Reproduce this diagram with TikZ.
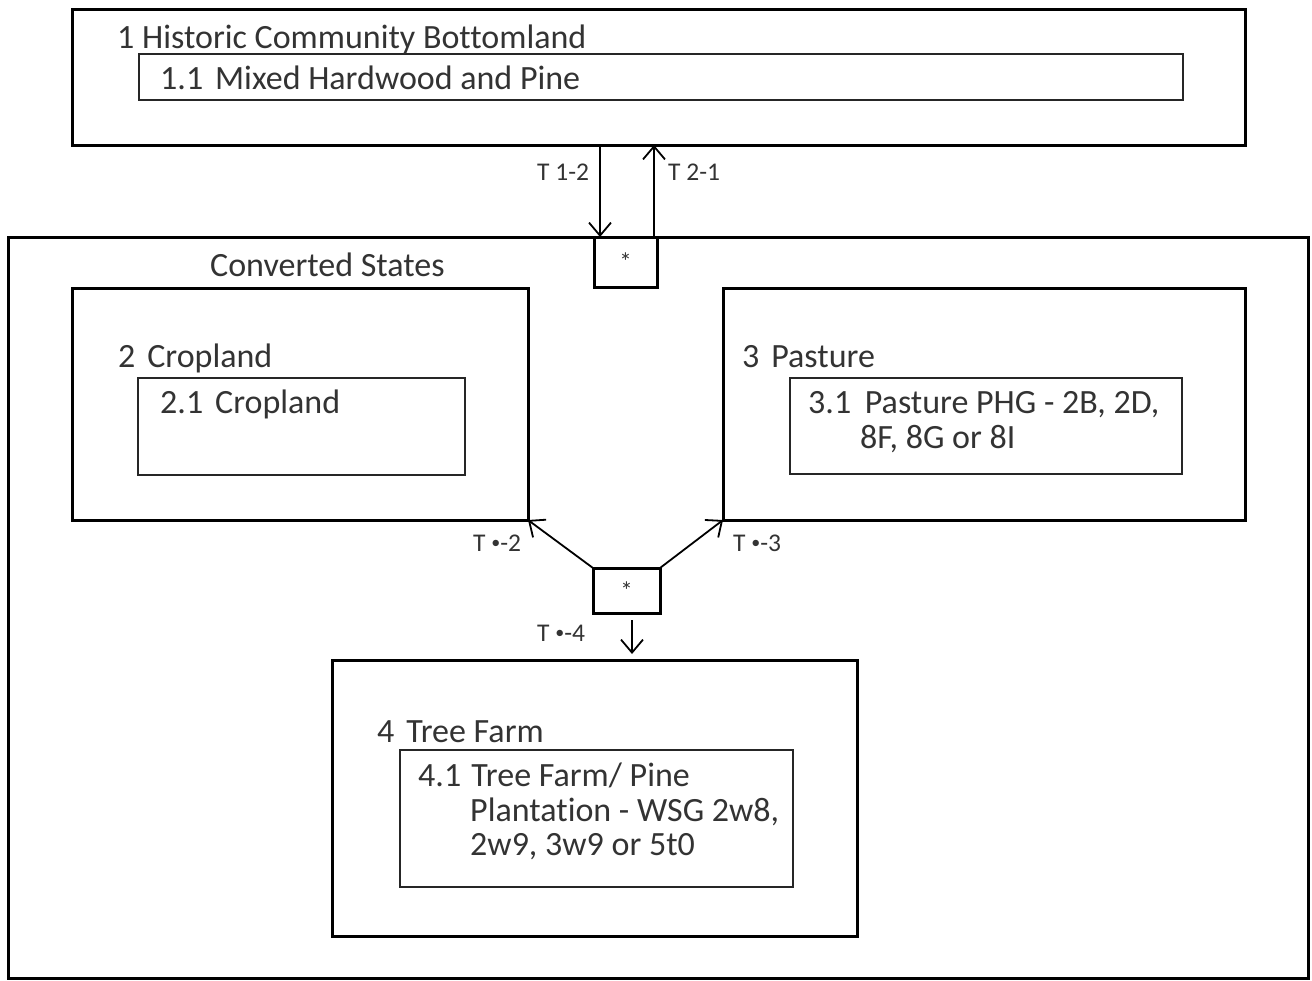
\documentclass[tikz,border=0pt]{standalone}
\usepackage{fontspec}
\setmainfont{Carlito}[Ligatures=NoCommon]
\usetikzlibrary{arrows.meta}
\newcommand{\smalldot}{\raisebox{0.2ex}{\fontsize{18}{18}\selectfont•}}
\begin{document}
\begin{tikzpicture}[x=1pt,y=-1pt,
  bigbox/.style={draw=black, line width=3pt, inner sep=0pt, outer sep=0pt},
  smallbox/.style={draw=black!85, line width=2pt, inner sep=0pt, outer sep=0pt},
  txt/.style={anchor=base west, inner sep=0pt, text=black!80, font=\fontsize{34}{35}\selectfont},
  lbl/.style={anchor=base west, inner sep=0pt, text=black!80, font=\fontsize{25.5}{28}\selectfont},
  arr/.style={line width=1.8pt, -{Straight Barb[length=13pt,width=22pt,line width=1.8pt]}}]
\useasboundingbox (0,0) rectangle (1312,980);
% boxes
\node[bigbox, minimum width=1173pt, minimum height=136pt] (b1) at (658.5,77) {};
\node[smallbox, minimum width=1044pt, minimum height=46pt] (b11) at (661,77) {};
\node[bigbox, minimum width=1300pt, minimum height=741pt] (conv) at (658,607.5) {};
\node[bigbox, minimum width=63pt, minimum height=50pt] (s1) at (625.5,262) {};
\node[bigbox, minimum width=456pt, minimum height=232pt] (b2) at (300,404) {};
\node[smallbox, minimum width=327pt, minimum height=97pt] (b21) at (301.5,426.5) {};
\node[bigbox, minimum width=522pt, minimum height=232pt] (b3) at (984,404) {};
\node[smallbox, minimum width=392pt, minimum height=96pt] (b31) at (986,426) {};
\node[bigbox, minimum width=67pt, minimum height=45pt] (s2) at (626.5,590.5) {};
\node[bigbox, minimum width=525pt, minimum height=276pt] (b4) at (594.5,798) {};
\node[smallbox, minimum width=393pt, minimum height=137pt] (b41) at (596.5,818.5) {};
% stars
\node[inner sep=0pt, text=black!80, font=\fontsize{25}{28}\selectfont] (st1) at (s1) {*};
\node[inner sep=0pt, text=black!80, font=\fontsize{25}{28}\selectfont] (st2) at (s2) {*};
% texts
\node[txt] (t1) at (117,48) {1 Historic Community Bottomland};
\node[txt] (t11) at (160,89) {1.1\hspace{0.35em}Mixed Hardwood and Pine};
\node[txt] (tc) at (210,276) {Converted States};
\node[txt] (t2) at (118,367) {2\hspace{0.35em}Cropland};
\node[txt] (t21) at (160,413) {2.1\hspace{0.35em}Cropland};
\node[txt] (t3) at (742,367) {3\hspace{0.35em}Pasture};
\node[txt] (t31) at (808,413) {3.1\hspace{0.4em}Pasture PHG - 2B, 2D,};
\node[txt] (t31b) at (860,448) {8F, 8G or 8I};
\node[txt] (t4) at (377,742) {4\hspace{0.35em}Tree Farm};
\node[txt] (t41) at (418,786) {4.1\hspace{0.3em}Tree Farm/ Pine};
\node[txt] (t41b) at (470,821) {Plantation - WSG 2w8,};
\node[txt] (t41c) at (470,855) {2w9, 3w9 or 5t0};
% labels
\node[lbl] (l12) at (537,180) {T 1-2};
\node[lbl] (l21) at (668,180) {T 2-1};
\node[lbl] (lx2) at (473,551) {T \smalldot-2};
\node[lbl] (lx3) at (733,551) {T \smalldot-3};
\node[lbl] (lx4) at (537,641) {T \smalldot-4};
% connectors
\draw[arr] ([xshift=-25.5pt]s1.north |- b1.south) -- ([xshift=-25.5pt]s1.north);
\draw[arr] ([xshift=28.5pt]s1.north) -- ([xshift=28.5pt]s1.north |- b1.south);
\draw[arr] (s2.north west) -- (b2.south east);
\draw[arr] (s2.north east) -- (b3.south west);
\draw[arr, shorten <=7pt, shorten >=6pt] ([xshift=5.5pt]s2.south) -- ([xshift=5.5pt]s2.south |- b4.north);
\end{tikzpicture}
\end{document}
